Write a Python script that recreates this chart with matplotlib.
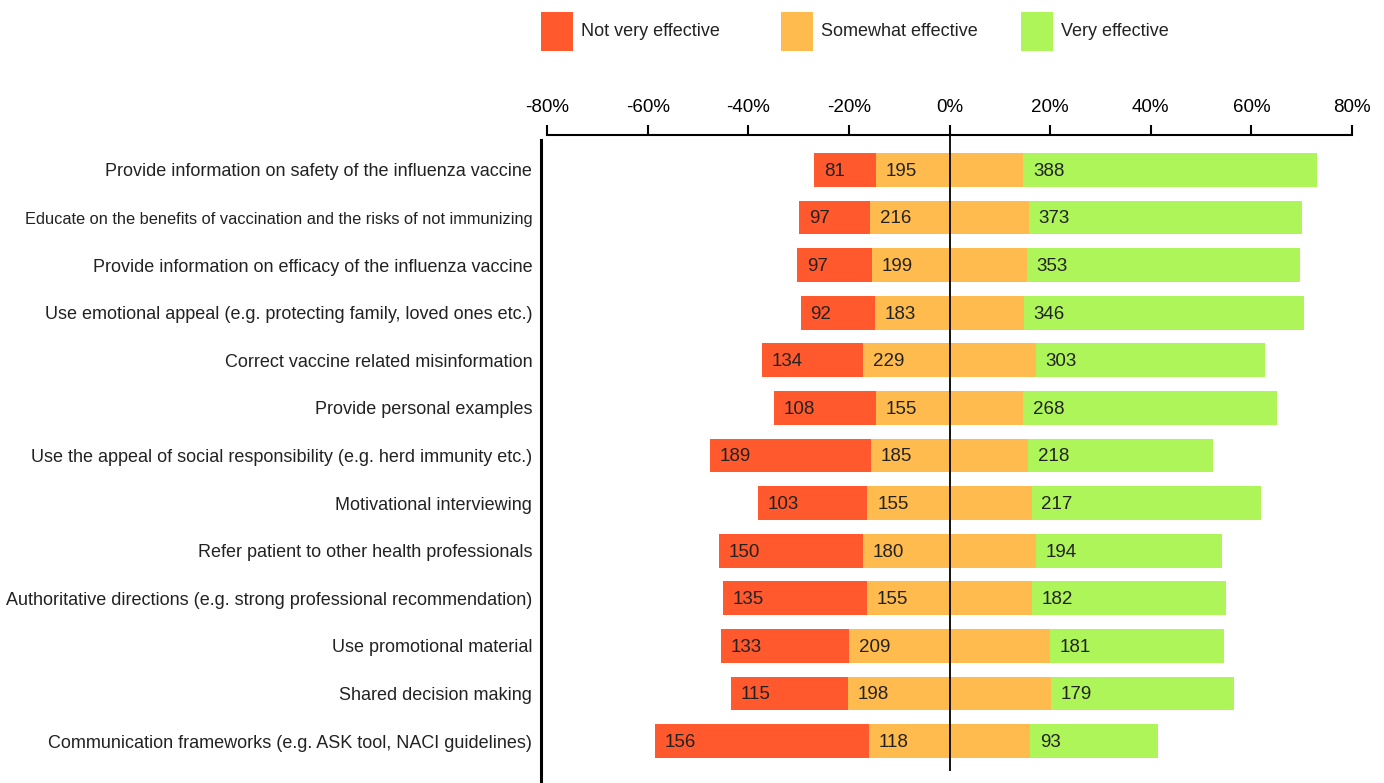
import numpy as np
import matplotlib
matplotlib.use("Agg")
import matplotlib.pyplot as plt
from matplotlib.patches import Rectangle
from matplotlib.ticker import FuncFormatter

plt.rcParams['font.family'] = ['Liberation Sans Narrow', 'Liberation Sans', 'DejaVu Sans']

# Survey data: number of respondents per answer
strategies = [
    "Provide information on safety of the influenza vaccine",
    "Educate on the benefits of vaccination and the risks of not immunizing",
    "Provide information on efficacy of the influenza vaccine",
    "Use emotional appeal (e.g. protecting family, loved ones etc.)",
    "Correct vaccine related misinformation",
    "Provide personal examples",
    "Use the appeal of social responsibility (e.g. herd immunity etc.)",
    "Motivational interviewing",
    "Refer patient to other health professionals",
    "Authoritative directions (e.g. strong professional recommendation)",
    "Use promotional material",
    "Shared decision making",
    "Communication frameworks (e.g. ASK tool, NACI guidelines)",
]
not_very = [81, 97, 97, 92, 134, 108, 189, 103, 150, 135, 133, 115, 156]
somewhat = [195, 216, 199, 183, 229, 155, 185, 155, 180, 155, 209, 198, 118]
very = [388, 373, 353, 346, 303, 268, 218, 217, 194, 182, 181, 179, 93]

series_names = ["Not very effective", "Somewhat effective", "Very effective"]
colors = ["#FF592D", "#FFBB4D", "#AEF55A"]
xticks = [-80, -60, -40, -20, 0, 20, 40, 60, 80]


def main():
    nv = np.array(not_very, dtype=float)
    sw = np.array(somewhat, dtype=float)
    vy = np.array(very, dtype=float)
    total = nv + sw + vy
    p_nv = nv / total * 100
    p_sw = sw / total * 100
    p_vy = vy / total * 100

    y = np.arange(len(strategies))
    left_sw = -p_sw / 2
    left_nv = left_sw - p_nv

    fig = plt.figure(figsize=(13.84, 7.83), dpi=100)
    ax = fig.add_axes([540.5 / 1384, 0, 811.5 / 1384, 1 - 135 / 783])

    h = 0.71
    ax.barh(y, p_nv, left=left_nv, height=h, color=colors[0], linewidth=0)
    ax.barh(y, p_sw, left=left_sw, height=h, color=colors[1], linewidth=0)
    ax.barh(y, p_vy, left=p_sw / 2, height=h, color=colors[2], linewidth=0)

    # count labels at the start of each segment
    for i in range(len(y)):
        for xs, val in [(left_nv[i], not_very[i]), (left_sw[i], somewhat[i]),
                        (p_sw[i] / 2, very[i])]:
            ax.annotate(str(val), (xs, y[i]), xytext=(7, -1), textcoords="offset points",
                        ha="left", va="center", fontsize=13.5, color="#222222")

    ax.set_xlim(-81.3, 80)
    ax.set_ylim(12.88, -0.735)

    ax.vlines(0, -0.735, 12.62, color="black", linewidth=1.3)

    ax.set_yticks(y)
    ax.set_yticklabels(strategies, fontsize=13, color="#222222")
    ax.tick_params(axis="y", length=0, pad=6)
    # this label is squeezed in the original
    ax.get_yticklabels()[1].set_fontsize(11.8)

    ax.xaxis.tick_top()
    ax.set_xticks(xticks)
    ax.xaxis.set_major_formatter(FuncFormatter(lambda v, p: f"{v:.0f}%"))
    ax.tick_params(axis="x", direction="out", length=7, width=1.5, labelsize=13.5, pad=7)

    ax.spines["right"].set_visible(False)
    ax.spines["bottom"].set_visible(False)
    ax.spines["top"].set_bounds(-80, 80)
    ax.spines["top"].set_linewidth(1.5)
    ax.spines["left"].set_bounds(12.88, -0.63)
    ax.spines["left"].set_linewidth(2.2)

    # legend with equal spacing
    x0, pitch = 541 / 1384, 240 / 1384
    w, hh = 32 / 1384, 39 / 783
    y0 = 1 - 51 / 783
    for i, (name, c) in enumerate(zip(series_names, colors)):
        fig.patches.append(Rectangle((x0 + i * pitch, y0), w, hh, transform=fig.transFigure,
                                     facecolor=c, edgecolor="none"))
        fig.text(x0 + i * pitch + w + 8 / 1384, y0 + hh / 2, name, fontsize=13,
                 ha="left", va="center", color="#222222")

    fig.savefig("out.png", dpi=100)


if __name__ == "__main__":
    main()
